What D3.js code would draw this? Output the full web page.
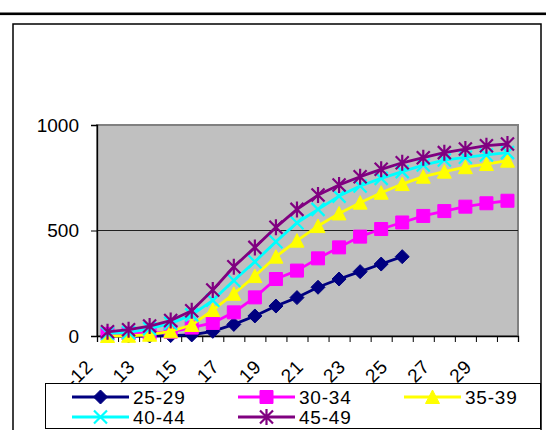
<!DOCTYPE html>
<html>
<head>
<meta charset="utf-8">
<script src="https://cdn.jsdelivr.net/npm/d3@7"></script>
<style>
  body { margin: 0; background: #fff; }
  svg { display: block; }
  text { font-family: Arial, "Liberation Sans", sans-serif; fill: #000; }
</style>
</head>
<body>
<svg id="chart" width="546" height="430"></svg>
<script>
// Age of woman (category axis)
const ages = ["-12", "12", "13", "14", "15", "16", "17", "18", "19", "20",
              "21", "22", "23", "24", "25", "26", "27", "28", "29", "30"];
const yTicks = [0, 500, 1000];

// Cumulative values per 1000 women, by age group of mother
const groupNames = ["25-29", "30-34", "35-39", "40-44", "45-49"];
const s25_29 = [0, 0, 0, 2, 5, 22, 55, 95, 142, 182, 231, 270, 305, 341, 376,
                null, null, null, null, null];
const s30_34 = [10, 12, 14, 20, 40, 62, 112, 183, 270, 310, 368, 420, 471, 507, 538,
                569, 592, 613, 629, 641];
const s35_39 = [0, 1, 6, 22, 52, 123, 200, 284, 376, 452, 521, 581, 632, 679, 720,
                755, 779, 800, 815, 831];
const s40_44 = [13, 17, 35, 60, 100, 169, 263, 352, 447, 537, 600, 663, 711, 747, 779,
                810, 834, 847, 858, 869];
const s45_49 = [20, 30, 47, 73, 120, 218, 328, 420, 515, 600, 668, 716, 755, 790, 821,
                845, 869, 886, 902, 910];

const seriesValues = [s25_29, s30_34, s35_39, s40_44, s45_49];
const seriesColors = ["#000080", "#FF00FF", "#FFFF00", "#00FFFF", "#800080"];
const markerKinds = ["diamond", "square", "triangle", "cross", "asterisk"];

const svg = d3.select("#chart");

// page rule and chart frame
svg.append("rect").attr("x", 0).attr("y", 12.5).attr("width", 546).attr("height", 2.6).attr("fill", "#000");
svg.append("rect").attr("x", 13).attr("y", 24).attr("width", 528).attr("height", 430)
  .attr("fill", "#fff").attr("stroke", "#000").attr("stroke-width", 1.5);

const plot = { left: 97, right: 518, top: 125, bottom: 336 };

const x = d3.scaleBand().domain(ages).range([plot.left, plot.right]);
const xEdge = d3.scaleLinear().domain([0, ages.length]).range([plot.left, plot.right]);
const y = d3.scaleLinear().domain([0, 1000]).range([plot.bottom, plot.top]);
const cx = d => x(d) + x.bandwidth() / 2;

// plot area
svg.append("rect")
  .attr("x", plot.left).attr("y", plot.top)
  .attr("width", plot.right - plot.left).attr("height", plot.bottom - plot.top)
  .attr("fill", "#C0C0C0").attr("stroke", "#808080").attr("stroke-width", 2);

// gridline
svg.append("g").selectAll("line")
  .data(yTicks.filter(t => t > 0 && t < 1000))
  .join("line")
  .attr("x1", plot.left).attr("x2", plot.right)
  .attr("y1", d => y(d)).attr("y2", d => y(d))
  .attr("stroke", "#202020").attr("stroke-width", 1.2);

// value axis
const yAxis = svg.append("g")
  .attr("transform", `translate(${plot.left},0)`)
  .call(d3.axisLeft(y).tickValues(yTicks).tickSize(6).tickPadding(12).tickFormat(d3.format("d")));
yAxis.select(".domain").attr("stroke", "#000").attr("stroke-width", 1.3);
yAxis.selectAll(".tick line").attr("stroke", "#000");
yAxis.selectAll(".tick text").attr("font-size", 19).attr("font-family", "Arial, 'Liberation Sans', sans-serif");

// category axis: tick marks between categories
const xAxis = svg.append("g")
  .attr("transform", `translate(0,${plot.bottom})`)
  .call(d3.axisBottom(xEdge).tickValues(d3.range(ages.length + 1)).tickSize(6).tickFormat(""));
xAxis.select(".domain").attr("stroke", "#000").attr("stroke-width", 1.3);
xAxis.selectAll(".tick line").attr("stroke", "#000");

// category labels, every second category, rotated
svg.append("g").selectAll("text")
  .data(ages.filter((d, i) => i % 2 === 0))
  .join("text")
  .attr("transform", d => `translate(${cx(d) - 13.5},368) rotate(-45)`)
  .attr("text-anchor", "end")
  .attr("font-size", 19)
  .attr("letter-spacing", 0.5)
  .text(d => d);

// marker shapes
function markerPath(kind) {
  switch (kind) {
    case "diamond": return "M0,-7L7,0L0,7L-7,0Z";
    case "square": return "M-6.5,-6.5H6.5V6.5H-6.5Z";
    case "triangle": return "M0,-7L7,6.5L-7,6.5Z";
    case "cross": return "M-6.5,-6.5L6.5,6.5M6.5,-6.5L-6.5,6.5";
    case "asterisk": return "M-6.5,-6.5L6.5,6.5M6.5,-6.5L-6.5,6.5M0,-8V8";
  }
}
function drawMarker(sel, kind, color) {
  const filled = kind === "diamond" || kind === "square" || kind === "triangle";
  sel.attr("d", markerPath(kind))
    .attr("fill", filled ? color : "none")
    .attr("stroke", color)
    .attr("stroke-width", filled ? 1 : 2.2);
}

const line = d3.line()
  .defined(d => d.v != null)
  .x(d => cx(d.age))
  .y(d => y(d.v));

seriesValues.forEach((vals, k) => {
  const pts = vals.map((v, i) => ({ age: ages[i], v }));
  const g = svg.append("g");
  g.append("path")
    .datum(pts)
    .attr("d", line)
    .attr("fill", "none")
    .attr("stroke", seriesColors[k])
    .attr("stroke-width", 2.8)
    .attr("stroke-linejoin", "round");
  g.selectAll("path.m")
    .data(pts.filter(p => p.v != null))
    .join("path")
    .attr("class", "m")
    .attr("transform", p => `translate(${cx(p.age)},${y(p.v)})`)
    .call(s => drawMarker(s, markerKinds[k], seriesColors[k]));
});

// legend
const legend = svg.append("g");
legend.append("rect")
  .attr("x", 45.5).attr("y", 383.5).attr("width", 495).attr("height", 45)
  .attr("fill", "#fff").attr("stroke", "#000").attr("stroke-width", 1);

const colX = [72, 238, 404];
const rowY = [397, 417];
groupNames.forEach((name, k) => {
  const gx = colX[k % 3], gy = rowY[Math.floor(k / 3)];
  const item = legend.append("g").attr("transform", `translate(${gx},${gy})`);
  item.append("line").attr("x1", 0).attr("x2", 57).attr("y1", 0).attr("y2", 0)
    .attr("stroke", seriesColors[k]).attr("stroke-width", 2.8);
  item.append("path").attr("transform", "translate(28.5,0)")
    .call(s => drawMarker(s, markerKinds[k], seriesColors[k]));
  item.append("text").attr("x", 61).attr("y", 0).attr("dy", "0.35em")
    .attr("font-size", 19).attr("letter-spacing", 0.8).text(name);
});
</script>
</body>
</html>
